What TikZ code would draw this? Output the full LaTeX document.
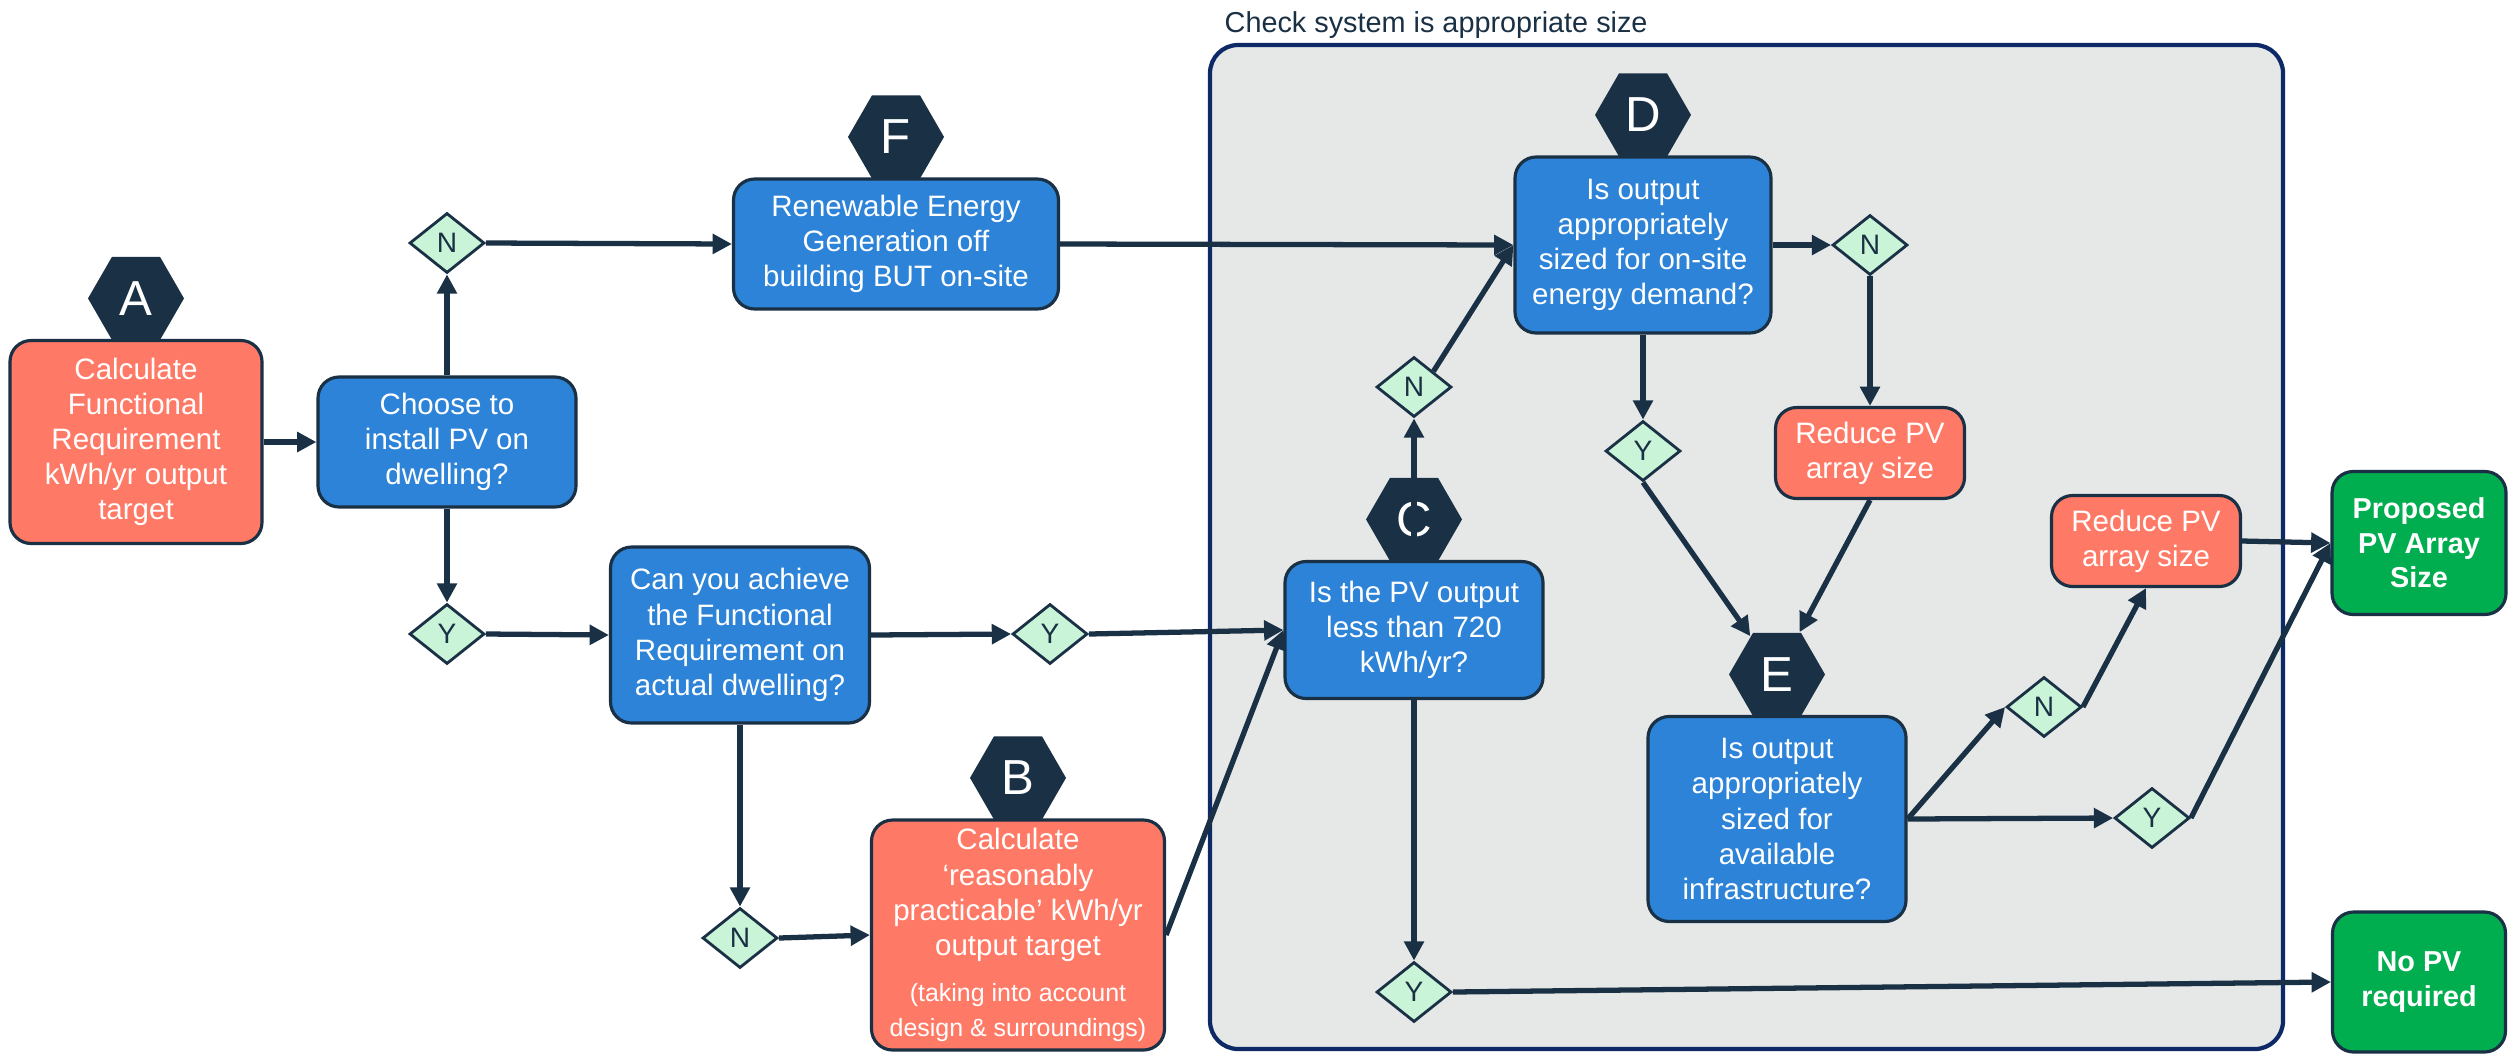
\documentclass[tikz,border=0pt]{standalone}
\usepackage{fontspec}
\setmainfont{Liberation Sans}
\usetikzlibrary{arrows.meta,positioning,shapes.geometric}
\definecolor{navy}{HTML}{1A3044}
\definecolor{salmon}{HTML}{FF7A66}
\definecolor{azure}{HTML}{2C83D7}
\definecolor{mint}{HTML}{C9F4D8}
\definecolor{leaf}{HTML}{00AD4F}
\definecolor{panel}{HTML}{E6E8E8}
\definecolor{rim}{HTML}{0E2A66}
\newcommand{\notesize}{\fontsize{7.1}{8.4}\selectfont}

\begin{document}
\begin{tikzpicture}[box/.style={draw=navy,line width=0.9pt,rounded corners=6pt,text=white,align=center,inner sep=1pt,font=\fontsize{8.4}{10}\selectfont},
  calc/.style={box,fill=salmon},
  ask/.style={box,fill=azure},
  done/.style={box,fill=leaf,font=\fontsize{8.2}{9.8}\selectfont\bfseries},
  tag/.style={regular polygon,regular polygon sides=6,fill=navy,text=white,minimum size=0.96cm,inner sep=0pt,font=\fontsize{14}{14}\selectfont},
  yn/.style={diamond,draw=navy,line width=0.8pt,fill=mint,text=navy,minimum width=0.75cm,minimum height=0.6cm,inner sep=0pt,font=\fontsize{8}{8}\selectfont},
  flow/.style={-{Triangle[length=5.5pt,width=5.5pt]},line width=1.5pt,draw=navy}]
  \useasboundingbox (0,0) rectangle (25.09,-10.53);
  \draw[rim,fill=panel,line width=1.2pt,rounded corners=8pt] (12.10,-0.45) rectangle (22.83,-10.49);
  \node[anchor=base west,inner sep=0pt,text=navy,font=\fontsize{8.2}{9}\selectfont] (title) at (12.24,-0.32) {Check system is appropriate size};

  \node[calc,minimum width=2.52cm,minimum height=2.03cm] (reqA) at (1.36,-4.42) {Calculate\\Functional\\Requirement\\kWh/yr output\\target};
  \node[ask,minimum width=2.58cm,minimum height=1.30cm] (pvQ) at (4.47,-4.42) {Choose to\\install PV on\\dwelling?};
  \node[ask,minimum width=3.25cm,minimum height=1.30cm] (offsite) at (8.96,-2.44) {Renewable Energy\\Generation off\\building BUT on-site};
  \node[ask,minimum width=2.59cm,minimum height=1.76cm] (achieveQ) at (7.40,-6.35) {Can you achieve\\the Functional\\Requirement on\\actual dwelling?};
  \node[calc,minimum width=2.93cm,minimum height=2.30cm] (practical) at (10.18,-9.35)
   {Calculate\\‘reasonably\\practicable’ kWh/yr\\output target\\[3pt]\notesize(taking into account\\\notesize design \& surroundings)};
  \node[ask,minimum width=2.58cm,minimum height=1.37cm] (lessQ) at (14.14,-6.30) {Is the PV output\\less than 720\\kWh/yr?};
  \node[ask,minimum width=2.56cm,minimum height=1.76cm] (demandQ) at (16.43,-2.45) {Is output\\appropriately\\sized for on-site\\energy demand?};
  \node[calc,minimum width=1.89cm,minimum height=0.91cm] (reduceA) at (18.70,-4.53) {Reduce PV\\array size};
  \node[ask,minimum width=2.58cm,minimum height=2.05cm] (infraQ) at (17.77,-8.19) {Is output\\appropriately\\sized for\\available\\infrastructure?};
  \node[calc,minimum width=1.89cm,minimum height=0.91cm] (reduceB) at (21.46,-5.41) {Reduce PV\\array size};
  \node[done,minimum width=1.74cm,minimum height=1.43cm] (proposed) at (24.19,-5.43) {Proposed\\PV Array\\Size};
  \node[done,minimum width=1.73cm,minimum height=1.40cm] (nopv) at (24.19,-9.82) {No PV\\required};

  \foreach \n/\t in {reqA/A,offsite/F,practical/B,lessQ/C,demandQ/D,infraQ/E}
     \node[tag,above=-0.5pt of \n] (tag\t) {\t};

  \node[yn] (nTop) at (4.47,-2.43) {N};
  \node[yn] (yLeft) at (4.47,-6.34) {Y};
  \node[yn] (yMid) at (10.50,-6.34) {Y};
  \node[yn] (nBot) at (7.40,-9.38) {N};
  \node[yn] (nC) at (14.14,-3.87) {N};
  \node[yn] (yC) at (14.14,-9.92) {Y};
  \node[yn] (nD) at (18.70,-2.45) {N};
  \node[yn] (yD) at (16.43,-4.51) {Y};
  \node[yn] (nE) at (20.44,-7.07) {N};
  \node[yn] (yE) at (21.52,-8.18) {Y};

  \foreach \a/\b in {reqA.east/pvQ.west,pvQ.north/nTop.south,nTop.east/offsite.west,pvQ.south/yLeft.north,
     yLeft.east/achieveQ.west,achieveQ.east/yMid.west,yMid.east/lessQ.west,achieveQ.south/nBot.north,
     nBot.east/practical.west,practical.east/lessQ.west,lessQ.north/nC.south,nC.north east/demandQ.west,
     offsite.east/demandQ.west,demandQ.east/nD.west,nD.south/reduceA.north,demandQ.south/yD.north,
     yD.south/tagE,reduceA.south/tagE,infraQ.east/nE.west,infraQ.east/yE.west,nE.east/reduceB.south,
     reduceB.east/proposed.west,yE.east/proposed.west,lessQ.south/yC.north,yC.east/nopv.west}
     \draw[flow] (\a) -- (\b);
\end{tikzpicture}
\end{document}
